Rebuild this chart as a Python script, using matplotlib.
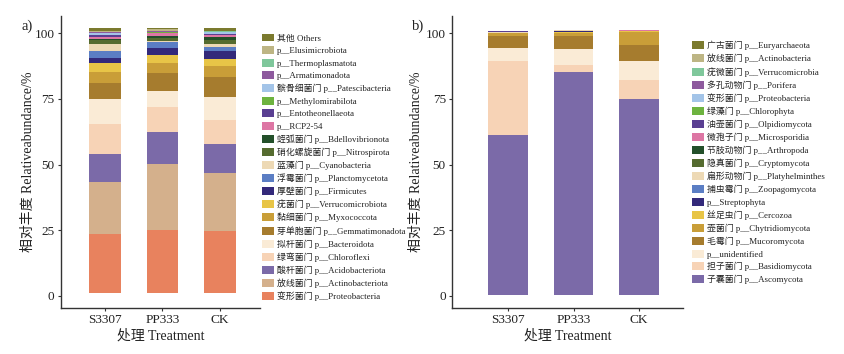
import matplotlib
matplotlib.use("Agg")
import matplotlib.pyplot as plt
import numpy as np
from matplotlib.patches import Patch

# ---------------------------------------------------------------------------
# Datos (de abajo hacia arriba en cada barra)
# ---------------------------------------------------------------------------
treatments = ["S3307", "PP333", "CK"]

bact_labels = [
    "变形菌门 p__Proteobacteria",
    "放线菌门 p__Actinobacteriota",
    "酸杆菌门 p__Acidobacteriota",
    "绿弯菌门 p__Chloroflexi",
    "拟杆菌门 p__Bacteroidota",
    "芽单胞菌门 p__Gemmatimonadota",
    "黏细菌门 p__Myxococcota",
    "疣菌门 p__Verrucomicrobiota",
    "厚壁菌门 p__Firmicutes",
    "浮霉菌门 p__Planctomycetota",
    "蓝藻门 p__Cyanobacteria",
    "硝化螺旋菌门 p__Nitrospirota",
    "蛭弧菌门 p__Bdellovibrionota",
    "p__RCP2-54",
    "p__Entotheonellaeota",
    "p__Methylomirabilota",
    "髌骨细菌门 p__Patescibacteria",
    "p__Armatimonadota",
    "p__Thermoplasmatota",
    "p__Elusimicrobiota",
    "其他 Others",
]
bact_s3307 = [22.2, 19.9, 10.7, 11.4, 9.4, 6.3, 4.2, 3.4, 1.9, 2.5, 2.9,
              1.3, 0.6, 0.8, 0.5, 0.2, 0.6, 0.3, 0.2, 0.5, 0.8]
bact_pp333 = [23.9, 25.0, 12.3, 9.3, 6.1, 7.1, 3.8, 2.8, 2.9, 2.2, 0.5,
              1.0, 1.0, 0.9, 0.2, 0.1, 0.3, 0.2, 0.1, 0.5, 0.6]
bact_ck = [23.6, 22.0, 11.0, 9.1, 8.9, 7.5, 4.2, 2.5, 3.2, 1.6, 0.9,
           1.8, 0.9, 1.0, 0.3, 0.1, 0.5, 0.3, 0.1, 0.3, 0.8]

fungi_labels = [
    "子囊菌门 p__Ascomycota",
    "担子菌门 p__Basidiomycota",
    "p__unidentified",
    "毛霉门 p__Mucoromycota",
    "壶菌门 p__Chytridiomycota",
    "丝足虫门 p__Cercozoa",
    "p__Streptophyta",
    "捕虫霉门 p__Zoopagomycota",
    "扁形动物门 p__Platyhelminthes",
    "隐真菌门 p__Cryptomycota",
    "节肢动物门 p__Arthropoda",
    "微孢子门 p__Microsporidia",
    "油壶菌门 p__Olpidiomycota",
    "绿藻门 p__Chlorophyta",
    "变形菌门 p__Proteobacteria",
    "多孔动物门 p__Porifera",
    "疣微菌门 p__Verrucomicrobia",
    "放线菌门 p__Actinobacteria",
    "广古菌门 p__Euryarchaeota",
]
fungi_s3307 = [61.0, 28.3, 4.7, 4.7, 1.0, 0.2, 0.05, 0.05, 0.3, 0.05,
               0.02, 0.02, 0.02, 0.02, 0.02, 0.02, 0.02, 0.02, 0.02]
fungi_pp333 = [84.9, 2.8, 6.0, 4.8, 1.5, 0.3, 0.4, 0.05, 0.05, 0.05,
               0.02, 0.02, 0.02, 0.02, 0.02, 0.02, 0.02, 0.02, 0.02]
fungi_ck = [74.8, 7.1, 7.2, 6.1, 5.1, 0.1, 0.05, 0.2, 0.05, 0.05,
            0.02, 0.02, 0.02, 0.02, 0.02, 0.02, 0.02, 0.02, 0.02]

# ---------------------------------------------------------------------------
# Estilo
# ---------------------------------------------------------------------------
PALETTE = [
    "#E8825E", "#D4B08C", "#7B6AA8", "#F7D3B6", "#FAEBD6", "#A67C2E",
    "#C99E38", "#E8C547", "#33297A", "#5B7EC4", "#EDD9B5", "#556B2F",
    "#23502A", "#DD76A4", "#5A3F92", "#6DB33F", "#A3C4E8", "#8E5A9E",
    "#7FC79B", "#BDB584", "#7B7A2E",
]
SERIF = ["Liberation Serif", "Noto Sans CJK SC"]
TXT = "#222222"
BASE_A, BASE_B = 1.26, 0.3

W, H = 844, 354
fig = plt.figure(figsize=(W / 100, H / 100), dpi=100)


def px_axes(x0, x1, y_top, y_bot):
    return fig.add_axes([x0 / W, 1 - y_bot / H, (x1 - x0) / W, (y_bot - y_top) / H])


def draw_panel(ax, series, colors, width, base, xlim):
    x = np.arange(len(treatments))
    bottom = np.full(len(treatments), base)
    for i, col in enumerate(colors):
        vals = np.array([s[i] for s in series])
        ax.bar(x, vals, width, bottom=bottom, color=col, linewidth=0)
        bottom = bottom + vals
    ax.set_xlim(*xlim)
    ax.set_ylim(-4.6, 106.6)
    ax.set_yticks([0, 25, 50, 75, 100])
    ax.set_xticks(x)
    ax.set_xticklabels(treatments)
    for s in ("top", "right"):
        ax.spines[s].set_visible(False)
    for s in ("left", "bottom"):
        ax.spines[s].set_color("#333333")
        ax.spines[s].set_linewidth(1.0)
    ax.tick_params(length=2.5, width=0.8, color="#333333", labelcolor=TXT, pad=2)
    for lab in ax.get_xticklabels() + ax.get_yticklabels():
        lab.set_fontfamily(SERIF)
        lab.set_fontsize(9.5)
    ax.set_xlabel("处理 Treatment", family=SERIF, fontsize=10, color=TXT, labelpad=2)
    ax.set_ylabel("相对丰度 Relativeabundance/%", family=SERIF, fontsize=10, color=TXT)


def draw_legend(ax, labels, colors, x, y_top):
    handles = [Patch(facecolor=c, edgecolor="none") for c in colors][::-1]
    leg = ax.legend(handles, labels[::-1], loc="upper left",
                    bbox_to_anchor=(x / W, 1 - y_top / H), bbox_transform=fig.transFigure,
                    frameon=False, prop={"family": SERIF, "size": 6.4},
                    handlelength=1.3, handleheight=1.0, handletextpad=0.35,
                    labelspacing=0.4, borderpad=0, borderaxespad=0)
    for t in leg.get_texts():
        t.set_color(TXT)


# a) bacterias
ax1 = px_axes(60.7, 260, 16, 308)
draw_panel(ax1, [bact_s3307, bact_pp333, bact_ck], PALETTE[:len(bact_labels)],
           0.55, BASE_A, (-0.77, 2.7))
ax1.yaxis.set_label_coords((35 - 60.7) / 199.3, 0.5)
draw_legend(ax1, bact_labels, PALETTE[:len(bact_labels)], 262, 33.5)

# b) hongos
ax2 = px_axes(452, 683, 16, 308)
fungi_colors = PALETTE[2:2 + len(fungi_labels)]
draw_panel(ax2, [fungi_s3307, fungi_pp333, fungi_ck], fungi_colors,
           0.6, BASE_B, (-0.855, 2.67))
ax2.yaxis.set_label_coords((423 - 452) / 231, 0.5)
draw_legend(ax2, fungi_labels, fungi_colors, 692, 41)

fig.text(22 / W, 1 - 26 / H, "a)", family=SERIF, fontsize=10.5, color=TXT, va="center")
fig.text(412 / W, 1 - 26 / H, "b)", family=SERIF, fontsize=10.5, color=TXT, va="center")

fig.savefig("out.png", dpi=100)
